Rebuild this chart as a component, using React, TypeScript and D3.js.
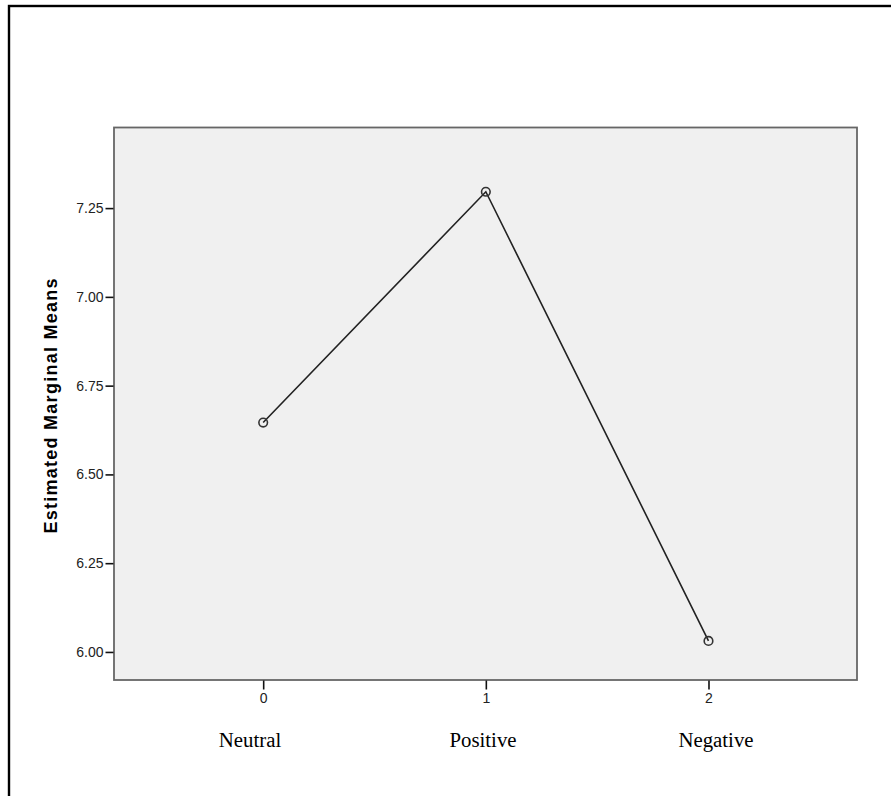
import React, { useEffect, useRef } from "react";
import * as d3 from "d3";

const levels = [0, 1, 2];
const levelNames = ["Neutral", "Positive", "Negative"];
const means = [6.646, 7.296, 6.031];
const yTicks = [6.0, 6.25, 6.5, 6.75, 7.0, 7.25];

const MarginalMeansChart: React.FC = () => {
  const svgRef = useRef<SVGSVGElement | null>(null);

  useEffect(() => {
    if (!svgRef.current) return;
    document.body.style.margin = "0";
    const svg = d3.select(svgRef.current);
    svg.selectAll("*").remove();

    const width = 891;
    const height = 796;
    const plot = { left: 114, top: 127.5, right: 857, bottom: 680 };

    svg.attr("width", width).attr("height", height);

    // outer frame (only top and left edges are visible in the picture)
    svg
      .append("rect")
      .attr("x", 9)
      .attr("y", 6)
      .attr("width", 1000)
      .attr("height", 1000)
      .attr("fill", "none")
      .attr("stroke", "#000")
      .attr("stroke-width", 2.4);

    const xScale = d3
      .scaleLinear()
      .domain([-0.67, 2.667])
      .range([plot.left, plot.right]);
    const yScale = d3
      .scaleLinear()
      .domain([5.921, 7.477])
      .range([plot.bottom, plot.top]);
    const labelScale = d3
      .scaleLinear()
      .domain([0, 2])
      .range([250, 716]);

    svg
      .append("rect")
      .attr("x", plot.left)
      .attr("y", plot.top)
      .attr("width", plot.right - plot.left)
      .attr("height", plot.bottom - plot.top)
      .attr("fill", "#f0f0f0")
      .attr("stroke", "#666")
      .attr("stroke-width", 1.8);

    const yAxis = d3
      .axisLeft(yScale)
      .tickValues(yTicks)
      .tickSize(8)
      .tickPadding(2)
      .tickFormat((d) => d3.format(".2f")(d as number));
    const gy = svg
      .append("g")
      .attr("transform", `translate(${plot.left - 0.5},0)`)
      .call(yAxis);
    gy.select(".domain").remove();
    gy.selectAll("line").attr("stroke", "#111").attr("stroke-width", 1.6);
    gy.selectAll("text")
      .attr("font-family", "'Liberation Sans', Arial, sans-serif")
      .attr("font-size", 14)
      .attr("fill", "#222");

    const xAxis = d3
      .axisBottom(xScale)
      .tickValues(levels)
      .tickSize(9)
      .tickPadding(4)
      .tickFormat((d) => `${d}`);
    const gx = svg
      .append("g")
      .attr("transform", `translate(0,${plot.bottom + 0.5})`)
      .call(xAxis);
    gx.select(".domain").remove();
    gx.selectAll("line").attr("stroke", "#111").attr("stroke-width", 1.6);
    gx.selectAll("text")
      .attr("font-family", "'Liberation Sans', Arial, sans-serif")
      .attr("font-size", 14)
      .attr("fill", "#222");

    svg
      .append("text")
      .attr("transform", "rotate(-90)")
      .attr("x", -406)
      .attr("y", 57)
      .attr("text-anchor", "middle")
      .attr("font-family", "'Liberation Sans', Arial, sans-serif")
      .attr("font-weight", "bold")
      .attr("font-size", 18)
      .attr("textLength", 255)
      .attr("lengthAdjust", "spacing")
      .attr("fill", "#000")
      .text("Estimated Marginal Means");

    svg
      .selectAll("text.level")
      .data(levelNames)
      .enter()
      .append("text")
      .attr("class", "level")
      .attr("x", (_, i) => labelScale(i))
      .attr("y", 747)
      .attr("text-anchor", "middle")
      .attr("font-family", "'Liberation Serif', 'Times New Roman', serif")
      .attr("font-size", 20.8)
      .attr("fill", "#000")
      .text((d) => d);

    const points = levels.map((l, i) => ({ x: l, y: means[i] }));
    const line = d3
      .line<{ x: number; y: number }>()
      .x((d) => xScale(d.x))
      .y((d) => yScale(d.y));

    svg
      .append("path")
      .datum(points)
      .attr("fill", "none")
      .attr("stroke", "#222")
      .attr("stroke-width", 1.6)
      .attr("d", line);

    svg
      .selectAll("circle")
      .data(points)
      .enter()
      .append("circle")
      .attr("cx", (d) => xScale(d.x))
      .attr("cy", (d) => yScale(d.y))
      .attr("r", 4.3)
      .attr("fill", "none")
      .attr("stroke", "#333")
      .attr("stroke-width", 1.6);
  }, []);

  return <svg ref={svgRef}></svg>;
};

export default function App() {
  return <MarginalMeansChart />;
}
